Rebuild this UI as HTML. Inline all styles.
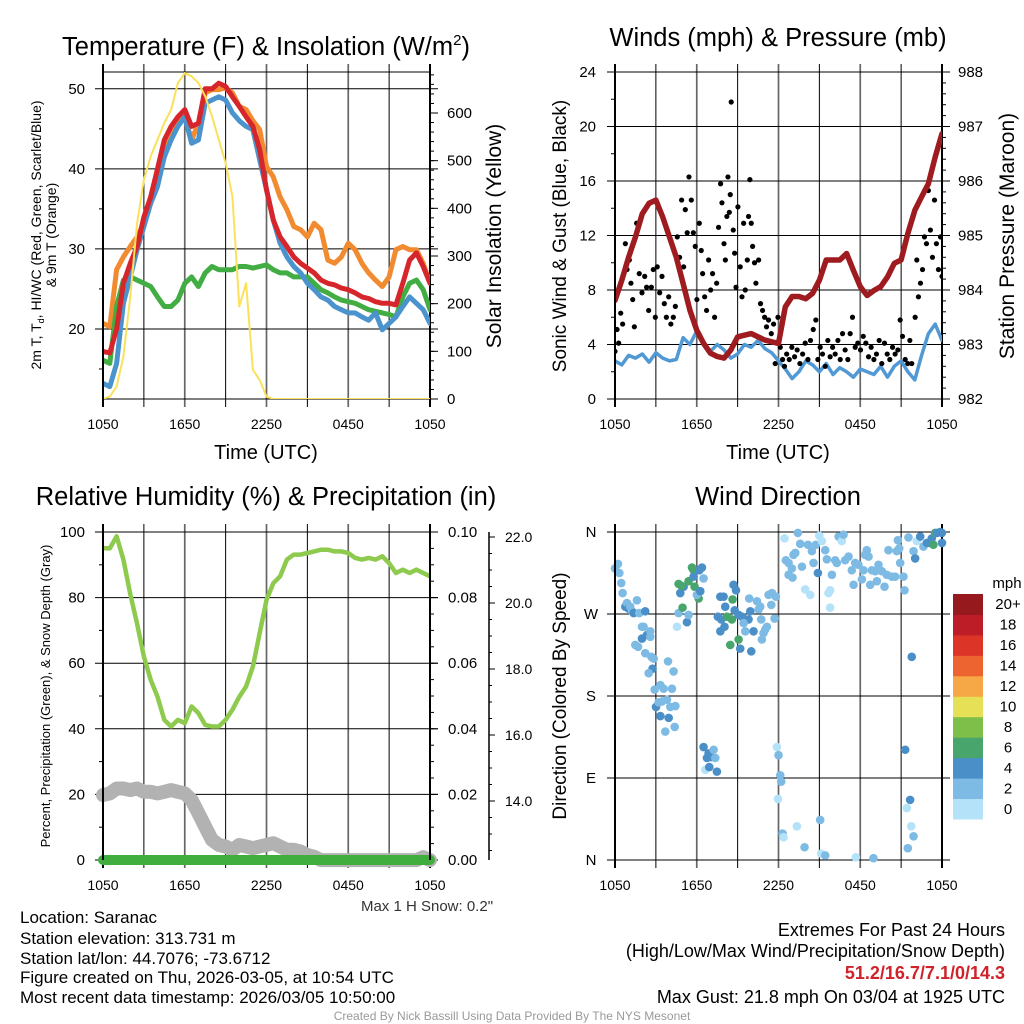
<!DOCTYPE html>
<html><head><meta charset="utf-8"><title>Saranac Meteogram</title>
<style>
html,body{margin:0;padding:0;background:#fff;}
svg{display:block;font-family:"Liberation Sans",sans-serif;}
</style></head>
<body>
<svg id="chart" width="1024" height="1024" viewBox="0 0 1024 1024" xmlns="http://www.w3.org/2000/svg">
<rect x="0" y="0" width="1024" height="1024" fill="#fff"/>
<text x="266" y="55" font-size="25.5" text-anchor="middle">Temperature (F) &amp; Insolation (W/m<tspan font-size="15" dy="-10">2</tspan><tspan dy="10">)</tspan></text>
<text x="778" y="46" font-size="25.5" text-anchor="middle">Winds (mph) &amp; Pressure (mb)</text>
<text x="266" y="505" font-size="25.5" text-anchor="middle">Relative Humidity (%) &amp; Precipitation (in)</text>
<text x="778" y="505" font-size="25.5" text-anchor="middle">Wind Direction</text>

<text transform="translate(41,235) rotate(-90)" font-size="14" text-anchor="middle">2m T, T<tspan font-size="9" dy="3">d</tspan><tspan dy="-3">, HI/WC (Red, Green, Scarlet/Blue)</tspan></text>
<text transform="translate(56,235) rotate(-90)" font-size="14" text-anchor="middle">&amp; 9m T (Orange)</text>
<text transform="translate(501,236) rotate(-90)" font-size="21" text-anchor="middle">Solar Insolation (Yellow)</text>
<text transform="translate(566,236) rotate(-90)" font-size="19" text-anchor="middle">Sonic Wind &amp; Gust (Blue, Black)</text>
<text transform="translate(1014,236) rotate(-90)" font-size="21" text-anchor="middle">Station Pressure (Maroon)</text>
<text transform="translate(50,696) rotate(-90)" font-size="13" text-anchor="middle">Percent, Precipitation (Green), &amp; Snow Depth (Gray)</text>
<text transform="translate(566,696) rotate(-90)" font-size="19" text-anchor="middle">Direction (Colored By Speed)</text>
<text x="266" y="459" font-size="20" text-anchor="middle">Time (UTC)</text>
<text x="778" y="459" font-size="20" text-anchor="middle">Time (UTC)</text>

<text x="427" y="911" font-size="15" text-anchor="middle" fill="#333">Max 1 H Snow: 0.2"</text>
<g font-size="17">
<text x="20" y="923">Location: Saranac</text>
<text x="20" y="944">Station elevation: 313.731 m</text>
<text x="20" y="964">Station lat/lon: 44.7076; -73.6712</text>
<text x="20" y="983">Figure created on Thu, 2026-03-05, at 10:54 UTC</text>
<text x="20" y="1003">Most recent data timestamp: 2026/03/05 10:50:00</text>
</g>
<g font-size="18" text-anchor="end">
<text x="1005" y="936">Extremes For Past 24 Hours</text>
<text x="1005" y="957">(High/Low/Max Wind/Precipitation/Snow Depth)</text>
<text x="1005" y="979" fill="#d0222a" font-weight="bold">51.2/16.7/7.1/0/14.3</text>
<text x="1005" y="1003">Max Gust: 21.8 mph On 03/04 at 1925 UTC</text>
</g>
<text x="512" y="1020" font-size="12" text-anchor="middle" fill="#999">Created By Nick Bassill Using Data Provided By The NYS Mesonet</text>
</svg>
<script>
// ---------- data ----------
const hours = Array.from({length:49}, (_, i) => i * 0.5);
const timeTickHours = [0, 6, 12, 18, 24];
const timeTickLabels = ["1050", "1650", "2250", "0450", "1050"];

const tempRed = [17.2,17,20,25.7,28.2,30.3,34,36.5,40,43.6,45.3,46.5,47.4,45.3,45.7,50,50,50.7,50.3,49,47.8,46.5,45.3,42.4,37.4,33.6,31.5,30.3,29,28.2,27.6,27,26.1,25.7,25.5,25.1,24.9,24.5,24,23.8,23.4,23.2,23.2,23,25.7,28.6,29.5,27.8,25.7];
const temp9mOrange = [20.7,20.3,27.4,29,30.3,31.5,33.2,35.7,39.5,41.5,44.5,46,46.5,43.6,45.7,49.5,49.9,49.9,50.1,49.5,47.8,47.4,46,44.9,40.3,39,36.5,34.9,32.8,32.4,31.5,33.2,32.4,28.6,28.2,29,30.7,29.9,28.2,27,26.1,25.3,26.5,29.9,30.3,29.9,29.9,28.2,25.7];
const dewGreen = [16.1,15.7,22.8,26.1,26.5,26.1,25.7,25.3,24,22.8,22.8,23.6,25.7,26.5,25.3,27,27.8,27.4,27.4,27.4,27.8,27.8,27.6,27.8,28,27.4,27,27,26.5,26.5,26.5,25.7,24.9,24.5,24,23.6,23.4,23.2,22.8,22.4,22.2,22,21.8,21.5,24,25.7,26.1,24.9,22.4];
const chillBlue = [13.2,12.8,15.7,23.2,26.5,29.9,32.8,35.7,37.8,41.5,43.6,45.3,46.5,43.2,43.6,48.2,48.6,49,48.6,47,46,45.3,44.9,41.1,37.4,33.6,30.7,29,27.8,27,25.7,24.9,24,23.6,22.8,22.4,22,22,21.5,21.1,22,19.9,20.7,21.5,22.8,24,23.2,22.4,20.7];
const solarYellow = [0,5,26,89,215,369,460,509,544,579,607,663,684,677,663,635,593,544,495,425,194,243,61,40,5,0,0,0,0,0,0,0,0,0,0,0,0,0,0,0,0,0,0,0,0,0,0,0,0];

const pressure = [983.81,984.18,984.6,984.97,985.4,985.59,985.65,985.34,984.97,984.6,984.12,983.63,983.26,983.02,982.84,982.78,982.75,982.9,983.14,983.17,983.2,983.14,983.08,983.05,983.02,983.69,983.88,983.88,983.84,983.94,984.18,984.55,984.55,984.55,984.67,984.36,984.06,983.9,983.99,984.06,984.24,984.49,984.55,985.04,985.46,985.71,985.95,986.44,986.87];
const windSpeed = [2.8,2.5,3.2,3.0,3.3,2.7,3.4,3.0,2.8,2.9,4.5,4.0,5.0,4.2,3.5,4.0,3.6,3.0,3.3,4.0,3.8,4.3,3.7,3.4,2.8,2.2,1.5,2.0,2.8,2.5,2.0,2.6,1.8,2.3,2.0,1.6,2.2,2.0,1.8,2.4,1.6,2.4,2.8,2.0,1.4,3.2,4.8,5.5,4.3];
const gustHours = [0,0.15,0.27,0.42,0.56,0.76,0.88,1.05,1.17,1.3,1.42,1.59,1.78,1.98,2.18,2.32,2.47,2.67,2.81,2.96,3.1,3.28,3.45,3.62,3.77,3.94,4.1,4.28,4.43,4.57,4.74,4.89,5.04,5.16,5.3,5.43,5.6,5.75,5.89,6.01,6.19,6.33,6.43,6.58,6.72,6.87,7.02,7.16,7.31,7.46,7.6,7.75,7.85,8.0,8.1,8.21,8.29,8.39,8.46,8.53,8.68,8.78,8.88,9.02,9.19,9.32,9.44,9.56,9.71,9.8,9.9,10.0,10.1,10.24,10.34,10.54,10.68,10.83,10.98,11.12,11.27,11.47,11.64,11.76,11.96,12.13,12.3,12.44,12.6,12.79,12.98,13.18,13.37,13.57,13.77,13.96,14.16,14.35,14.55,14.74,14.89,15.06,15.23,15.43,15.62,15.79,15.97,16.16,16.36,16.53,16.7,16.89,17.09,17.26,17.43,17.63,17.82,18.02,18.22,18.41,18.61,18.8,19.0,19.19,19.39,19.58,19.78,19.98,20.17,20.37,20.56,20.76,20.93,21.1,21.3,21.49,21.64,21.78,22.03,22.15,22.27,22.42,22.57,22.71,22.86,23.0,23.15,23.3,23.45,23.59,23.74,23.89,24];
const gustValues = [3.5,5.1,4.1,6.3,5.5,11.4,9.5,10.2,8.5,7.3,5.3,12.9,9.2,7.8,9.0,8.2,6.5,8.2,9.5,6.0,9.7,7.8,9.0,7.0,6.0,7.5,5.5,6.0,6.8,11.9,10.4,14.6,9.7,13.9,12.2,16.3,14.6,12.2,11.2,7.3,12.9,10.9,9.2,7.5,6.5,10.2,8.0,9.2,6.0,8.5,12.6,15.8,14.4,11.4,10.2,13.4,16.3,13.7,15.0,21.8,12.4,10.7,8.2,14.1,9.7,7.5,12.9,8.0,10.2,13.4,16.1,12.9,11.2,10.0,8.5,10.2,7.0,6.5,6.0,5.3,5.8,4.8,5.5,2.6,6.0,3.8,2.9,2.4,3.3,2.9,3.8,3.1,3.6,2.6,3.3,4.1,2.9,4.3,5.1,5.8,2.9,3.8,3.3,2.4,4.3,3.1,3.8,3.3,4.3,2.9,4.8,3.6,2.9,4.8,6.0,3.8,4.1,3.6,4.6,4.1,3.1,3.8,2.9,3.3,4.3,2.6,4.1,3.3,2.9,3.8,3.3,3.6,5.8,4.6,2.9,2.6,4.3,2.6,6.0,10.2,7.5,8.5,9.5,11.9,11.4,15.3,12.4,10.4,14.6,11.4,9.5,11.9,9.0];

const relHumidity = [95.1,95,98.7,91.6,81,72,62,54.9,49.8,42.7,40.7,42.7,41.7,46.8,44.8,41.2,40.7,40.7,42.7,45.8,49.8,52.9,59,69.2,79.3,84.4,86.5,91.6,93.1,93.1,93.6,94.1,94.6,94.6,94.1,94.1,93.6,92.1,91.6,92.1,91.6,92.6,90.5,87.5,88.5,87.5,88.5,87.5,86.5];
const snowDepth = [14.18,14.23,14.38,14.38,14.33,14.38,14.28,14.28,14.23,14.28,14.33,14.28,14.23,14.03,13.63,13.22,12.82,12.67,12.62,12.52,12.67,12.62,12.57,12.62,12.67,12.72,12.62,12.52,12.52,12.47,12.36,12.31,12.21,12.21,12.21,12.21,12.21,12.21,12.21,12.21,12.21,12.21,12.21,12.21,12.21,12.21,12.21,12.3,12.21];
const precip = [0,0,0,0,0,0,0,0,0,0,0,0,0,0,0,0,0,0,0,0,0,0,0,0,0,0,0,0,0,0,0,0,0,0,0,0,0,0,0,0,0,0,0,0,0,0,0,0,0];

const dirHours = [0,0.22,0.32,0.46,0.56,0.76,0.88,1.0,1.12,1.25,1.37,1.61,1.78,1.98,2.1,2.22,1.98,2.35,2.59,2.59,1.49,1.69,2.22,2.67,2.84,2.76,2.47,2.91,3.33,3.57,3.89,4.3,4.18,3.01,3.2,3.45,3.81,4.06,4.43,3.33,3.94,3.69,4.38,4.55,4.67,4.96,4.79,5.04,4.67,4.87,5.4,5.28,5.4,5.65,5.77,5.84,5.77,6.14,6.01,6.26,6.38,6.5,6.19,6.5,6.75,6.87,7.07,7.24,7.36,6.63,6.92,7.48,7.73,7.97,8.09,7.55,7.8,8.22,8.58,8.63,8.7,8.88,8.78,9.07,9.32,9.56,9.8,8.04,7.73,8.46,9.07,9.19,10.0,9.44,9.56,9.85,9.93,10.17,10.42,10.54,10.73,10.78,10.9,11.03,11.15,11.27,11.47,11.71,11.81,11.52,10.66,11.88,12.0,12.13,12.2,11.96,12.3,12.37,12.44,12.54,12.74,12.98,13.1,13.23,12.74,13.03,13.42,13.59,13.72,13.96,14.16,14.33,14.45,14.57,14.74,14.89,14.99,15.18,15.43,15.55,15.67,15.79,15.79,15.92,16.16,16.28,16.41,16.65,16.77,16.89,17.14,17.38,17.51,17.63,17.87,18.12,18.24,18.36,18.48,18.61,18.73,18.85,19.1,19.22,19.34,19.58,19.78,19.95,20.07,20.32,20.56,20.68,20.86,20.93,21.17,21.25,20.76,21.54,21.91,22.15,22.03,22.4,22.64,22.89,23.13,23.25,23.37,23.5,23.62,23.86,24.0,23.99,21.78,21.3,21.66,21.42,21.74,21.91,21.49,13.35,13.91,15.06,15.13,15.43,17.68,18.97];
const dirDegrees = [320,325,315,304,293,278,282,276,278,273,271,285,271,256,256,273,243,247,251,245,236,234,227,223,221,210,205,187,192,188,218,207,188,168,173,174,176,168,169,158,156,141,146,256,271,277,293,300,303,301,306,261,269,321,318,300,311,287,291,295,321,309,318,124,112,117,113,121,112,99,102,97,289,289,278,267,264,267,264,286,302,296,274,269,267,264,264,256,251,236,242,232,229,260,251,287,273,251,284,275,264,242,249,253,256,291,280,265,289,293,278,124,115,93,86,67,29,25,353,329,326,320,335,337,313,310,359,347,322,297,346,291,339,326,346,315,356,350,340,330,293,277,296,313,329,326,355,350,357,329,333,318,302,326,324,308,318,335,340,333,302,318,317,306,324,317,300,313,340,311,311,339,342,326,311,296,351,354,339,350,331,355,344,348,348,353,346,359,359,360,348,359,223,121,66,57,37,26,13,37,14,44,7,5,3,2];
const dirSpeeds = [3,3,3,3,3,5,3,5,3,3,5,3,3,3,3,5,5,5,3,3,3,3,3,3,3,5,3,3,3,3,3,3,3,5,3,3,3,3,3,5,5,3,3,1,3,7,5,5,7,7,7,5,3,7,7,7,5,7,3,5,5,3,5,5,5,5,5,3,3,1,5,5,5,5,5,5,5,7,7,7,5,5,5,5,5,5,5,5,5,7,7,5,5,3,3,3,5,5,3,3,3,3,3,3,3,3,3,3,3,3,3,1,3,3,3,1,3,1,1,3,3,3,3,3,3,3,3,3,3,1,3,1,3,3,3,5,1,1,3,3,1,1,1,3,3,3,3,1,3,3,3,3,3,3,3,3,3,3,3,3,3,3,3,3,3,3,3,3,3,3,3,3,3,3,3,3,3,3,3,1,5,5,3,5,5,5,7,7,5,5,5,5,5,5,5,1,1,3,3,1,3,3,1,3,1,3,1,3,1];
const speedBinLabels = ["0","2","4","6","8","10","12","14","16","18","20+"];
const speedBinColors = ["#b4e2f8","#7dbbe5","#4a8fc7","#48a66d","#7dbf49","#e6e056","#f6a846","#ee6431","#dd3428","#bd1d26","#96191d"];

// ---------- helpers ----------
const NS = "http://www.w3.org/2000/svg";
const svg = document.getElementById("chart");
function mk(tag, attrs, parent) {
  const e = document.createElementNS(NS, tag);
  for (const k in attrs) e.setAttribute(k, attrs[k]);
  (parent || svg).appendChild(e);
  return e;
}
function txt(str, x, y, size, anchor, parent) {
  const e = mk("text", {x: x, y: y, "font-size": size, "text-anchor": anchor || "start", fill: "#000"}, parent);
  e.textContent = str;
  return e;
}
function lin(x1, y1, x2, y2, stroke, w, parent) {
  return mk("line", {x1: x1, y1: y1, x2: x2, y2: y2, stroke: stroke, "stroke-width": w}, parent);
}

const P1 = {x0: 103, x1: 430, yT: 72, yB: 399};
const P2 = {x0: 615, x1: 942, yT: 72, yB: 399};
const P3 = {x0: 103, x1: 430, yT: 532, yB: 860};
const P4 = {x0: 615, x1: 942, yT: 532, yB: 860};
function X(p, t) { return p.x0 + t / 24 * (p.x1 - p.x0); }
function linY(p, lo, hi) { return v => p.yB - (v - lo) / (hi - lo) * (p.yB - p.yT); }

const defs = mk("defs", {});
function clipFor(p, id) {
  const c = mk("clipPath", {id: id}, defs);
  mk("rect", {x: p.x0, y: p.yT, width: p.x1 - p.x0, height: p.yB - p.yT}, c);
}
clipFor(P1, "c1"); clipFor(P2, "c2"); clipFor(P3, "c3"); clipFor(P4, "c4");

function drawFrame(p, name) {
  const g = mk("g", {});
  
  
  for (let h = 0; h <= 24; h += 3) {
    const edge = (h === 0 || h === 24);
    const six = (h % 6 === 0) && !edge;
    const l = lin(X(p, h), p.yT - 8, X(p, h), p.yB + 8, six ? "#666" : "#000", edge ? 2 : (six ? 1.7 : 1), g);
    
    
  }
  const top = lin(p.x0, p.yT, p.x1, p.yT, "#000", 1, g);
  
  
  const bot = lin(p.x0, p.yB, p.x1, p.yB, "#000", 1, g);
  
  
  timeTickHours.forEach((h, i) => {
    const t = txt(timeTickLabels[i], X(p, h), p.yB + 30, 14, "middle", g);
    
    
  });
  return g;
}
function leftAxis(p, name, Y, majors, minors, fmt, lx) {
  const g = mk("g", {});
  
  
  majors.forEach(v => {
    const l = lin(p.x0 - 8, Y(v), p.x1 + 8, Y(v), "#000", 1, g);
    
    
    const t = txt(fmt(v), lx, Y(v) + 5, 15, "end", g);
    
    
  });
  minors.forEach(v => {
    const l = lin(p.x0 - 4, Y(v), p.x0, Y(v), "#000", 1, g);
    
    
  });
}
function rightAxis(p, name, Y, majors, minors, fmt, lx) {
  const g = mk("g", {});
  
  
  majors.forEach(v => {
    const l = lin(p.x1, Y(v), p.x1 + 8, Y(v), "#000", 1, g);
    
    
    const t = txt(fmt(v), lx, Y(v) + 5, 15, "start", g);
    
    
  });
  minors.forEach(v => {
    const l = lin(p.x1, Y(v), p.x1 + 4, Y(v), "#000", 1, g);
    
    
  });
}
function range(a, b, s) { const r = []; for (let v = a; v <= b + 1e-9; v += s) r.push(+v.toFixed(4)); return r; }
function seriesLine(p, xs, ys, Y, color, w, clip, name, cap) {
  const pts = xs.map((t, i) => X(p, t).toFixed(1) + "," + Y(ys[i]).toFixed(1)).join(" ");
  const e = mk("polyline", {points: pts, fill: "none", stroke: color, "stroke-width": w, "stroke-linejoin": "round", "stroke-linecap": cap || "round", "clip-path": "url(#" + clip + ")"});
  
  
  return e;
}

// ---------- Panel 1 ----------
const yT1 = linY(P1, 11.25, 52.1);
const yS1 = linY(P1, 0, 686);
drawFrame(P1, "temperature");
leftAxis(P1, "temperature", yT1, [20, 30, 40, 50], [15, 25, 35, 45], v => String(v), 85);
rightAxis(P1, "solar", yS1, range(0, 600, 100), range(0, 680, 20), v => String(v), 447);
seriesLine(P1, hours, temp9mOrange, yT1, "#f28a30", 5, "c1", "orange-9m-temp-line");
seriesLine(P1, hours, dewGreen, yT1, "#41ad42", 5, "c1", "green-dewpoint-line");
seriesLine(P1, hours, chillBlue, yT1, "#4b93cd", 5, "c1", "blue-windchill-line");
seriesLine(P1, hours, tempRed, yT1, "#d6262c", 5, "c1", "red-2m-temp-line");
seriesLine(P1, hours, solarYellow, yS1, "#fbe15a", 2, "c1", "yellow-solar-line");
const b1 = lin(P1.x0, P1.yT, P1.x0, P1.yB, "#000", 2);



// ---------- Panel 2 ----------
const yW2 = linY(P2, 0, 24);
const yP2 = linY(P2, 982, 988);
drawFrame(P2, "winds");
leftAxis(P2, "winds", yW2, range(0, 24, 4), range(2, 22, 4), v => String(v), 596);
rightAxis(P2, "pressure", yP2, range(982, 988, 1), range(982, 988, 0.2), v => String(v), 958);
seriesLine(P2, hours, windSpeed, yW2, "#5199d4", 3.5, "c2", "blue-wind-speed-line");
const gustG = mk("g", {"clip-path": "url(#c2)"});


gustHours.forEach((t, i) => {
  const c = mk("circle", {cx: X(P2, t), cy: yW2(gustValues[i]), r: 2.6, fill: "#000"}, gustG);
  
  
});
seriesLine(P2, hours, pressure, yP2, "#9e1b1f", 5.5, "c2", "maroon-pressure-line");
const b2 = lin(P2.x0, P2.yT, P2.x0, P2.yB, "#000", 2);



// ---------- Panel 3 ----------
const yR3 = linY(P3, 0, 100);
const yPr3 = linY(P3, 0, 0.1);
const ySn3 = v => 801 - (v - 14) * 33;
drawFrame(P3, "humidity");
leftAxis(P3, "humidity", yR3, range(0, 100, 20), range(10, 90, 20), v => String(v), 85);
rightAxis(P3, "precip", yPr3, range(0, 0.1, 0.02), range(0, 0.1, 0.005), v => v.toFixed(2), 448);
const sg = mk("g", {});


const sax = lin(489, 532, 489, 860, "#000", 1.5, sg);


range(12.5, 22, 0.5).forEach(v => {
  const major = Math.abs(v % 2) < 1e-6;
  const l = lin(489, ySn3(v), 489 + (major ? 6 : 3), ySn3(v), "#000", 1, sg);
  
  
  if (major) {
    const t = txt(v.toFixed(1), 505, ySn3(v) + 5, 14, "start", sg);
    
    
  }
});
const snowLine = seriesLine(P3, hours, snowDepth, ySn3, "#b2b2b2", 14, "c3", "gray-snow-depth-line");
snowLine.removeAttribute("clip-path");
seriesLine(P3, hours, precip, yPr3, "#3fae3f", 10, "c3", "green-precip-line").removeAttribute("clip-path");
seriesLine(P3, hours, relHumidity, yR3, "#8dca4e", 4.5, "c3", "relative-humidity-line");
const b3 = lin(P3.x0, P3.yT, P3.x0, P3.yB, "#000", 2);


const b3r = lin(P3.x1, P3.yT, P3.x1, P3.yB, "#000", 2);



// ---------- Panel 4 ----------
const yD4 = linY(P4, 0, 360);
drawFrame(P4, "direction");
const dirLabels = ["N", "E", "S", "W", "N"];
[0, 90, 180, 270, 360].forEach((v, i) => {
  const l = lin(P4.x0 - 8, yD4(v), P4.x1 + 8, yD4(v), "#000", 1);
  
  
  const t = txt(dirLabels[i], 591, yD4(v) + 5, 15, "middle");
  
  
});
function speedColor(s) { return speedBinColors[Math.min(10, Math.max(0, Math.floor(s / 2)))]; }
const dg = mk("g", {});


dirHours.forEach((t, i) => {
  const c = mk("circle", {cx: X(P4, t), cy: yD4(dirDegrees[i]), r: 4.3, fill: speedColor(dirSpeeds[i])}, dg);
  
  
});
const b4 = lin(P4.x0, P4.yT, P4.x0, P4.yB, "#000", 2);



// colorbar
const cb = mk("g", {});


const cbTop = 594, cbH = 225 / 11;
speedBinColors.forEach((col, i) => {
  const k = 10 - i;
  const r = mk("rect", {x: 953, y: cbTop + k * cbH, width: 30, height: cbH + 0.5, fill: col}, cb);
  
  
  const t = txt(speedBinLabels[i], 1008, cbTop + k * cbH + cbH / 2 + 5, 15, "middle", cb);
  
  
});
const mph = txt("mph", 1007, 588, 15, "middle", cb);


</script>
</body></html>
